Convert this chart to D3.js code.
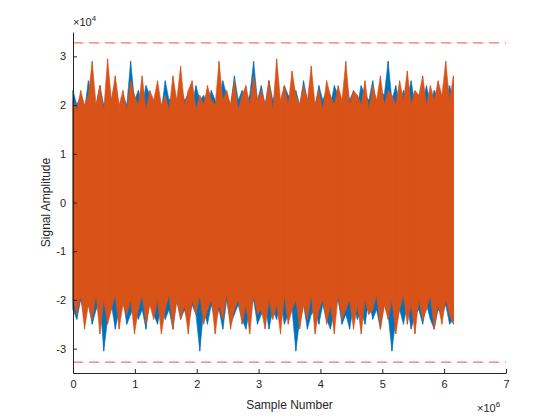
<!DOCTYPE html>
<html>
<head>
<meta charset="utf-8">
<script src="https://cdn.jsdelivr.net/npm/d3@7"></script>
<style>
  body { margin: 0; background: #fff; }
  text { font-family: "Liberation Sans", Arial, sans-serif; }
</style>
</head>
<body>
<div id="chart"></div>
<script>
// envelope of the two channels, 100 bins over the 6.15e6 samples, values in units of 1e4
var nSamples = 6.15e6;
var blueHi = [2.3,2.0,2.2,1.9,2.5,2.1,2.0,2.4,2.0,2.2,2.1,2.5,1.9,2.2,2.0,2.9,2.1,2.3,2.0,2.4,2.2,2.0,2.3,1.9,2.5,2.1,2.2,2.0,2.4,2.1,2.2,2.0,2.4,2.1,2.2,2.0,2.3,2.1,2.0,2.5,2.2,2.0,2.6,2.1,2.3,2.0,2.2,2.9,2.1,2.4,2.0,2.5,2.1,2.3,2.0,2.4,2.2,2.1,2.3,2.0,2.5,2.1,2.2,2.0,2.4,2.1,2.3,2.0,2.4,2.2,2.0,2.5,2.1,2.3,2.0,2.4,2.2,2.1,2.5,2.0,2.3,2.2,2.9,2.1,2.4,2.0,2.3,2.1,2.5,2.0,2.2,2.1,2.4,2.0,2.3,2.1,2.2,2.0,2.4,2.1];
var blueLo = [-2.2,-2.4,-2.0,-2.3,-2.1,-2.5,-2.2,-2.0,-3.05,-2.4,-2.1,-2.6,-2.2,-2.0,-2.5,-2.3,-2.1,-2.4,-2.2,-2.6,-2.0,-2.3,-2.5,-2.1,-2.4,-2.2,-2.6,-2.0,-2.4,-2.2,-2.5,-2.1,-2.3,-3.05,-2.2,-2.5,-2.1,-2.4,-2.2,-2.6,-2.0,-2.5,-2.3,-2.1,-2.4,-2.6,-2.2,-2.0,-2.5,-2.3,-2.1,-2.6,-2.2,-2.4,-2.0,-2.5,-2.3,-2.2,-3.05,-2.4,-2.1,-2.6,-2.3,-2.2,-2.5,-2.1,-2.4,-2.6,-2.2,-2.0,-2.5,-2.3,-2.6,-2.1,-2.4,-2.2,-2.5,-2.0,-2.4,-2.2,-2.6,-2.1,-2.3,-3.05,-2.4,-2.2,-2.5,-2.1,-2.6,-2.3,-2.2,-2.5,-2.1,-2.4,-2.6,-2.2,-2.3,-2.1,-2.5,-2.4];
var orangeHi = [2.1,1.9,2.3,2.0,2.2,2.9,2.0,2.4,1.9,2.95,2.1,2.6,2.0,2.3,1.9,2.5,2.2,2.0,2.6,1.9,2.3,2.1,2.5,2.0,2.2,1.9,2.6,2.1,2.8,2.0,2.3,2.5,1.9,2.2,2.0,2.4,2.1,2.0,2.9,2.1,2.3,2.0,2.5,1.9,2.2,2.4,2.0,2.6,2.1,2.3,2.0,2.5,1.9,2.95,2.1,2.4,2.0,2.7,2.2,2.0,2.4,2.1,2.8,2.0,2.3,1.9,2.5,2.2,2.0,2.4,2.1,2.9,2.0,2.3,2.2,2.0,2.5,1.9,2.4,2.1,2.6,2.0,2.3,2.2,2.0,2.5,2.1,2.7,2.0,2.3,2.2,2.6,2.0,2.4,2.1,2.5,2.2,2.9,2.1,2.6];
var orangeLo = [-2.0,-2.3,-1.9,-2.6,-2.1,-2.4,-1.9,-2.7,-2.0,-2.5,-2.2,-1.9,-2.6,-2.1,-2.3,-2.0,-2.7,-2.2,-1.9,-2.5,-2.1,-2.4,-2.0,-2.7,-2.2,-1.9,-2.6,-2.0,-2.4,-2.1,-2.7,-2.0,-2.3,-1.9,-2.5,-2.2,-2.0,-2.7,-2.1,-2.4,-1.9,-2.6,-2.2,-2.0,-2.5,-2.1,-2.7,-1.9,-2.3,-2.2,-2.6,-2.0,-2.4,-2.1,-2.7,-1.9,-2.5,-2.2,-2.0,-2.6,-2.1,-2.4,-1.9,-2.7,-2.2,-2.0,-2.5,-2.1,-2.7,-1.9,-2.4,-2.2,-2.0,-2.6,-2.1,-2.7,-2.0,-2.3,-2.2,-1.9,-2.6,-2.1,-2.4,-2.0,-2.7,-2.2,-1.9,-2.5,-2.1,-2.7,-2.0,-2.4,-2.2,-1.9,-2.6,-2.1,-2.5,-2.0,-2.3,-2.5];
var xTicks = [0, 1, 2, 3, 4, 5, 6, 7];
var yTicks = [-3, -2, -1, 0, 1, 2, 3];
var clipLevels = [32767, -32767];

var svg = d3.select('div#chart').append('svg')
  .attr('width', 560).attr('height', 420);

var margin = { left: 73, top: 32, right: 54, bottom: 47 };
var width = 560 - margin.left - margin.right;
var height = 420 - margin.top - margin.bottom;

var x = d3.scaleLinear().domain([0, 7e6]).range([margin.left, margin.left + width]);
var y = d3.scaleLinear().domain([-3.5e4, 3.5e4]).range([margin.top + height, margin.top]);

var binX = function(i) { return x(i / (blueHi.length - 1) * nSamples); };

// ragged envelope plus a thin stroke per bin, like a dense plot
function drawChannel(hi, lo, color) {
  var area = d3.area()
    .x(function(d, i) { return binX(i); })
    .y0(function(d, i) { return y(lo[i] * 1e4); })
    .y1(function(d) { return y(d * 1e4); });
  svg.append('path').datum(hi)
    .attr('d', area).attr('fill', color)
    .attr('stroke', color).attr('stroke-width', 0.6);
  svg.append('g').selectAll('line').data(hi).enter().append('line')
    .attr('x1', function(d, i) { return binX(i); })
    .attr('x2', function(d, i) { return binX(i); })
    .attr('y1', function(d) { return y(d * 1e4); })
    .attr('y2', function(d, i) { return y(lo[i] * 1e4); })
    .attr('stroke', color).attr('stroke-width', 1);
}
drawChannel(blueHi, blueLo, '#0072BD');
drawChannel(orangeHi, orangeLo, '#D95319');

svg.selectAll('line.clip').data(clipLevels).enter().append('line')
  .attr('x1', x(0)).attr('x2', x(7e6))
  .attr('y1', function(d) { return y(d); }).attr('y2', function(d) { return y(d); })
  .attr('stroke', '#ff4545').attr('stroke-width', 1)
  .attr('stroke-dasharray', '10,6');

var xAxis = svg.append('g')
  .attr('transform', 'translate(0,' + (margin.top + height) + ')')
  .call(d3.axisBottom(x).tickValues(xTicks.map(function(d) { return d * 1e6; }))
    .tickFormat(function(d) { return d / 1e6; }).tickSizeInner(-4).tickSizeOuter(0).tickPadding(7));
var yAxis = svg.append('g')
  .attr('transform', 'translate(' + margin.left + ',0)')
  .call(d3.axisLeft(y).tickValues(yTicks.map(function(d) { return d * 1e4; }))
    .tickFormat(function(d) { return d / 1e4; }).tickSizeInner(-4).tickSizeOuter(0).tickPadding(7));
[xAxis, yAxis].forEach(function(g) {
  g.selectAll('path, line').attr('stroke', '#262626');
  g.selectAll('text').attr('fill', '#262626').style('font-size', '11px');
});

svg.append('text').attr('x', 73).attr('y', 26).attr('fill', '#262626').style('font-size', '11px')
  .html('×10<tspan dy="-5" font-size="8px">4</tspan>');
svg.append('text').attr('x', 477).attr('y', 412).attr('fill', '#262626').style('font-size', '11px')
  .html('×10<tspan dy="-5" font-size="8px">6</tspan>');

svg.append('text').attr('x', x(3.5e6)).attr('y', 409).attr('text-anchor', 'middle')
  .attr('fill', '#262626').style('font-size', '12px').text('Sample Number');
svg.append('text').attr('transform', 'translate(50,' + y(0) + ') rotate(-90)')
  .attr('text-anchor', 'middle').attr('fill', '#262626').style('font-size', '12px').text('Signal Amplitude');
</script>
</body>
</html>
